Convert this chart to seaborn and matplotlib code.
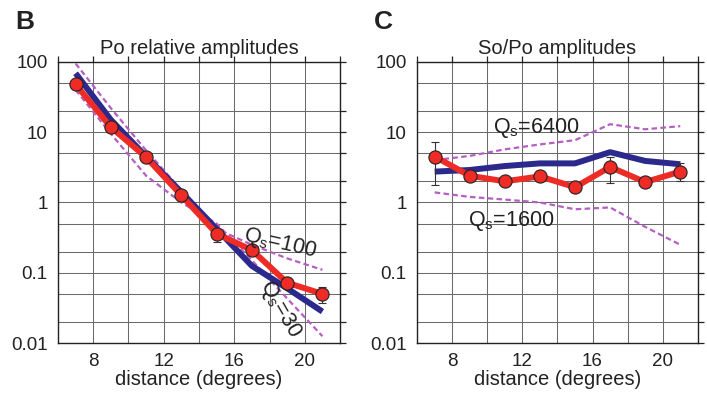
import numpy as np
import pandas as pd
import seaborn as sns
import matplotlib.pyplot as plt
from matplotlib.ticker import FixedLocator, NullFormatter

# distances (degrees)
dist = [7, 9, 11, 13, 15, 17, 19, 21]

# panel B: Po relative amplitudes
po_obs = [48, 11.8, 4.4, 1.26, 0.36, 0.21, 0.072, 0.05]
po_lo = [42, 11.0, 4.0, 1.15, 0.27, 0.19, 0.066, 0.037]
po_hi = [52, 12.6, 4.8, 1.38, 0.40, 0.23, 0.078, 0.062]
po_model = [69, 15, 4.5, 1.4, 0.42, 0.125, 0.06, 0.028]
po_q100 = [95, 22, 5.5, 1.5, 0.42, 0.25, 0.16, 0.11]
po_q30 = [40, 9.5, 2.4, 1.0, 0.5, 0.15, 0.043, 0.0125]

# panel C: So/Po amplitudes
sp_obs = [4.5, 2.4, 2.0, 2.35, 1.65, 3.2, 1.95, 2.75]
sp_lo = [1.8, 2.2, 1.85, 2.2, 1.5, 1.9, 1.8, 2.0]
sp_hi = [7.2, 2.6, 2.15, 2.5, 1.8, 4.4, 2.1, 3.6]
sp_model = [2.75, 2.9, 3.3, 3.6, 3.6, 5.2, 3.9, 3.5]
sp_q6400 = [4.0, 4.6, 5.7, 6.7, 7.7, 13.0, 11.0, 12.2]
sp_q1600 = [1.39, 1.2, 1.1, 1.0, 0.8, 0.85, 0.45, 0.25]

blue = '#2b2a8c'
red = '#ee2b25'
purple = '#b55fc4'

sns.set_style('white')
plt.rcParams['font.family'] = ['Liberation Sans', 'DejaVu Sans']
plt.rcParams['mathtext.fontset'] = 'custom'
plt.rcParams['mathtext.rm'] = 'Liberation Sans'
plt.rcParams['mathtext.it'] = 'Liberation Sans'

fig = plt.figure(figsize=(7.07, 3.97), dpi=100)
axB = fig.add_axes([0.082, 0.136, 0.399, 0.708])
axC = fig.add_axes([0.590, 0.136, 0.397, 0.708])


def draw(ax, obs, lo, hi, model, q_hi, q_lo, title):
    df = pd.DataFrame({'d': dist, 'obs': obs, 'model': model, 'qh': q_hi, 'ql': q_lo})
    for col in ['qh', 'ql']:
        sns.lineplot(data=df, x='d', y=col, ax=ax, color=purple, lw=1.6,
                     linestyle=(0, (2.5, 1.5)), zorder=3)
    sns.lineplot(data=df, x='d', y='model', ax=ax, color=blue, lw=4.3, zorder=4,
                 solid_capstyle='butt')
    yerr = [np.array(obs) - np.array(lo), np.array(hi) - np.array(obs)]
    ax.errorbar(dist, obs, yerr=yerr, fmt='none', ecolor='#333333', elinewidth=0.8,
                capsize=3, capthick=0.8, zorder=5)
    sns.lineplot(data=df, x='d', y='obs', ax=ax, color=red, lw=4.3, marker='o',
                 markersize=9.5, markerfacecolor=red, markeredgecolor='#222222',
                 markeredgewidth=0.8, zorder=6)

    ax.set_yscale('log')
    ax.set_xlim(6, 22)
    ax.set_ylim(0.01, 100)
    grid_y = [m * 10.0 ** e for e in range(-2, 2) for m in (1, 2, 5)] + [100]
    ax.yaxis.set_major_locator(FixedLocator([0.01, 0.1, 1, 10, 100]))
    ax.set_yticklabels(['0.01', '0.1', '1', '10', '100'])
    ax.yaxis.set_minor_locator(FixedLocator(grid_y))
    ax.yaxis.set_minor_formatter(NullFormatter())
    ax.xaxis.set_major_locator(FixedLocator([8, 12, 16, 20]))
    ax.xaxis.set_minor_locator(FixedLocator(list(range(6, 23, 2))))
    ax.grid(True, which='both', color='#6a6a6a', lw=0.75)
    ax.tick_params(which='both', direction='out', top=True, right=True,
                   length=4, width=0.9, color='#222222', labelsize=13.5,
                   labelcolor='#222222')
    for s in ax.spines.values():
        s.set_color('#222222')
        s.set_linewidth(1.0)
    ax.set_xlabel('distance (degrees)', fontsize=14.5, color='#222222', labelpad=0)
    ax.set_ylabel('')
    ax.set_title(title, fontsize=14.5, color='#222222', pad=6)


draw(axB, po_obs, po_lo, po_hi, po_model, po_q100, po_q30, 'Po relative amplitudes')
draw(axC, sp_obs, sp_lo, sp_hi, sp_model, sp_q6400, sp_q1600, 'So/Po amplitudes')

axB.text(18.6, 0.26, '$Q_s$=100', fontsize=15.5, rotation=-13, ha='center', va='center',
         color='#222222', zorder=7)
axB.text(18.6, 0.03, '$Q_s$=30', fontsize=15.5, rotation=-60, ha='center', va='center',
         color='#222222', zorder=7)
axC.text(10.3, 11.5, '$Q_s$=6400', fontsize=15.5, ha='left', va='center',
         color='#222222', zorder=7)
axC.text(8.9, 0.55, '$Q_s$=1600', fontsize=15.5, ha='left', va='center',
         color='#222222', zorder=7)

fig.text(0.021, 0.945, 'B', fontsize=19, fontweight='bold', va='center',
         family=['Liberation Sans Narrow', 'Liberation Sans'], color='#222222')
fig.text(0.529, 0.945, 'C', fontsize=19, fontweight='bold', va='center',
         family=['Liberation Sans Narrow', 'Liberation Sans'], color='#222222')

fig.savefig('out.png', dpi=100)
